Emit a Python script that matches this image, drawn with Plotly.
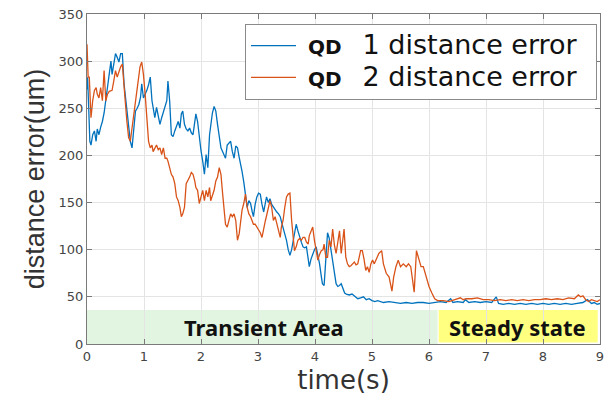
import plotly.graph_objects as go

# ---- data ----
t_qd1 = [0.00, 0.01, 0.03, 0.05, 0.07, 0.10, 0.13, 0.16, 0.18, 0.21, 0.24, 0.27, 0.30, 0.33, 0.36, 0.39,
         0.42, 0.44, 0.47, 0.50, 0.53, 0.56, 0.59, 0.62, 0.65, 0.67, 0.70, 0.73, 0.76, 0.79, 0.82, 0.85,
         0.88, 0.91, 0.94, 0.96, 0.99, 1.02, 1.05, 1.08, 1.11, 1.14, 1.17, 1.19, 1.22, 1.25, 1.28, 1.31,
         1.34, 1.37, 1.40, 1.42, 1.45, 1.48, 1.51, 1.54, 1.57, 1.60, 1.63, 1.655, 1.68, 1.71, 1.74, 1.77,
         1.80, 1.83, 1.86, 1.89, 1.91, 1.94, 1.97, 2.00, 2.03, 2.06, 2.09, 2.12, 2.15, 2.17, 2.20, 2.23,
         2.26, 2.29, 2.32, 2.35, 2.38, 2.41, 2.43, 2.46, 2.49, 2.52, 2.55, 2.58, 2.61, 2.64, 2.67, 2.69,
         2.72, 2.75, 2.78, 2.81, 2.84, 2.87, 2.90, 2.92, 2.95, 2.98, 3.01, 3.04, 3.07, 3.10, 3.13, 3.15,
         3.18, 3.21, 3.24, 3.27, 3.30, 3.33, 3.36, 3.39, 3.41, 3.44, 3.47, 3.50, 3.53, 3.56, 3.59, 3.62,
         3.64, 3.67, 3.70, 3.73, 3.76, 3.79, 3.82, 3.85, 3.88, 3.90, 3.93, 3.96, 3.99, 4.02, 4.05, 4.08,
         4.11, 4.13, 4.16, 4.19, 4.22, 4.25, 4.28, 4.31, 4.34, 4.37, 4.40, 4.43, 4.46, 4.49, 4.52, 4.55,
         4.60, 4.65, 4.70, 4.75, 4.80, 4.85, 4.90, 4.95, 5.00, 5.05, 5.10, 5.15, 5.20, 5.30, 5.40, 5.50,
         5.60, 5.70, 5.80, 5.90, 6.00, 6.10, 6.20, 6.30, 6.38, 6.42, 6.50, 6.60, 6.64, 6.70, 6.80, 6.90,
         7.00, 7.10, 7.18, 7.22, 7.30, 7.40, 7.50, 7.60, 7.70, 7.80, 7.90, 8.00, 8.10, 8.20, 8.30, 8.40,
         8.50, 8.60, 8.70, 8.78, 8.85, 8.90, 8.95, 9.00]
qd1_error = [270, 283, 250, 215, 211, 222, 226, 215, 228, 222, 230, 236, 245, 258, 272, 286,
             300, 286, 297, 308, 304, 299, 308, 308, 276, 265, 247, 236, 215, 208, 229, 247,
             250, 254, 262, 276, 261, 265, 269, 275, 283, 258, 245, 240, 251, 240, 233, 240,
             247, 252, 258, 279, 258, 222, 220, 226, 232, 236, 229, 244, 247, 233, 228, 226,
             229, 224, 222, 235, 244, 236, 219, 205, 194, 180, 201, 187, 222, 233, 245, 252,
             247, 233, 220, 208, 204, 200, 197, 211, 213, 215, 204, 197, 210, 208, 198, 190,
             183, 172, 160, 145, 152, 149, 140, 135, 148, 156, 160, 159, 148, 140, 150, 156,
             150, 154, 148, 145, 142, 140, 138, 135, 130, 124, 118, 110, 100, 94, 100, 110,
             118, 127, 120, 113, 108, 103, 102, 103, 92, 82, 90, 96, 100, 103, 95, 85,
             72, 64, 62, 90, 118, 112, 100, 85, 75, 64, 61, 62, 64, 58, 54, 53,
             52, 53, 50, 48, 49, 50, 47, 48, 46, 45, 46, 45, 44, 45, 44, 43,
             44, 43, 44, 44, 43, 44, 45, 44, 48, 44, 45, 44, 47, 44, 45, 44,
             45, 44, 50, 43, 42, 43, 42, 43, 42, 43, 42, 43, 42, 43, 42, 43,
             42, 43, 44, 47, 43, 44, 42, 43]

t_qd2 = [0.00, 0.01, 0.02, 0.04, 0.07, 0.10, 0.13, 0.16, 0.18, 0.21, 0.24, 0.27, 0.30, 0.33, 0.36, 0.39,
         0.42, 0.44, 0.47, 0.50, 0.53, 0.56, 0.59, 0.62, 0.65, 0.67, 0.70, 0.73, 0.76, 0.79, 0.82, 0.85,
         0.88, 0.91, 0.93, 0.96, 0.99, 1.02, 1.05, 1.08, 1.11, 1.14, 1.16, 1.19, 1.22, 1.25, 1.28, 1.31,
         1.34, 1.37, 1.40, 1.42, 1.45, 1.48, 1.51, 1.54, 1.57, 1.60, 1.63, 1.655, 1.68, 1.71, 1.74, 1.77,
         1.80, 1.83, 1.86, 1.89, 1.91, 1.94, 1.97, 2.00, 2.03, 2.06, 2.09, 2.12, 2.15, 2.17, 2.20, 2.23,
         2.26, 2.29, 2.32, 2.35, 2.38, 2.41, 2.43, 2.46, 2.49, 2.52, 2.55, 2.58, 2.61, 2.64, 2.67, 2.69,
         2.72, 2.75, 2.78, 2.81, 2.84, 2.87, 2.90, 2.92, 2.95, 2.98, 3.01, 3.04, 3.07, 3.10, 3.13, 3.15,
         3.18, 3.21, 3.24, 3.27, 3.30, 3.33, 3.36, 3.39, 3.41, 3.44, 3.47, 3.50, 3.53, 3.56, 3.59, 3.62,
         3.64, 3.67, 3.70, 3.73, 3.76, 3.79, 3.82, 3.85, 3.88, 3.90, 3.93, 3.96, 3.99, 4.02, 4.05, 4.08,
         4.11, 4.14, 4.16, 4.19, 4.22, 4.25, 4.28, 4.31, 4.34, 4.37, 4.40, 4.43, 4.46, 4.48, 4.51, 4.54,
         4.57, 4.60, 4.63, 4.66, 4.69, 4.72, 4.75, 4.80, 4.83, 4.86, 4.89, 4.92, 4.95, 4.98, 5.01, 5.04,
         5.08, 5.12, 5.17, 5.20, 5.25, 5.30, 5.35, 5.38, 5.42, 5.46, 5.50, 5.55, 5.60, 5.64, 5.68, 5.72,
         5.74, 5.78, 5.82, 5.86, 5.90, 5.95, 6.00, 6.05, 6.10, 6.15, 6.25, 6.35, 6.45, 6.55, 6.60, 6.65,
         6.75, 6.85, 6.95, 7.05, 7.15, 7.25, 7.35, 7.45, 7.55, 7.65, 7.75, 7.85, 7.95, 8.05, 8.15, 8.25,
         8.35, 8.45, 8.55, 8.62, 8.66, 8.70, 8.75, 8.80, 8.85, 8.90, 8.95, 9.00]
qd2_error = [318, 300, 283, 283, 240, 258, 269, 272, 265, 261, 272, 258, 290, 258, 265, 268,
             269, 269, 279, 290, 283, 290, 294, 297, 269, 258, 236, 219, 215, 229, 247, 261,
             276, 286, 294, 299, 286, 265, 240, 215, 208, 211, 204, 208, 211, 206, 208, 201,
             208, 197, 197, 194, 187, 180, 177, 170, 156, 152, 145, 135, 138, 145, 170, 173,
             177, 182, 180, 173, 166, 163, 149, 156, 163, 152, 163, 156, 166, 152, 157, 163,
             173, 177, 187, 180, 159, 138, 127, 124, 131, 138, 135, 138, 131, 110, 117, 127,
             142, 149, 159, 145, 138, 135, 131, 127, 127, 124, 120, 118, 113, 124, 131, 136,
             145, 152, 145, 131, 135, 128, 120, 113, 124, 131, 145, 156, 159, 160, 131, 110,
             99, 103, 110, 112, 110, 113, 113, 108, 106, 115, 120, 124, 110, 100, 89, 95,
             99, 100, 106, 92, 92, 110, 103, 122, 105, 96, 106, 120, 96, 110, 122, 92,
             85, 82, 83, 85, 87, 84, 85, 99, 99, 90, 78, 82, 76, 85, 89, 85,
             90, 96, 99, 85, 75, 71, 56, 71, 82, 89, 82, 85, 82, 85, 82, 61,
             55, 99, 89, 82, 82, 71, 61, 54, 48, 46, 46, 45, 47, 49, 47, 48,
             48, 49, 47, 47, 46, 47, 46, 47, 46, 47, 46, 47, 47, 48, 47, 48,
             47, 49, 48, 52, 50, 51, 47, 45, 47, 46, 45, 47]

series_names = ["1 distance error", "2 distance error"]
series_colors = ["#0072BD", "#D95319"]
region_labels = ["Transient Area", "Steady state"]
region_bounds = [(0, 6.15), (6.17, 8.96)]
x_ticks = [0, 1, 2, 3, 4, 5, 6, 7, 8, 9]
y_ticks = [0, 50, 100, 150, 200, 250, 300, 350]

ARIAL = "Liberation Sans, Arial, sans-serif"
WIDE = "DejaVu Sans, sans-serif"

fig = go.Figure()
for t, v, nm, col in [(t_qd1, qd1_error, series_names[0], series_colors[0]),
                      (t_qd2, qd2_error, series_names[1], series_colors[1])]:
    fig.add_trace(go.Scatter(
        x=t, y=v, mode="lines",
        name="&nbsp;<span style='font-size:20px'><b>QD</b></span>&nbsp;&nbsp;&nbsp;"
             "<span style='font-size:27px'>" + nm + "</span>&nbsp;&nbsp;",
        line=dict(color=col, width=1.3),
    ))

# region boxes
fig.add_shape(type="rect", xref="x", yref="y",
              x0=region_bounds[0][0], x1=region_bounds[0][1], y0=0, y1=36,
              fillcolor="#e1f5e1", line=dict(width=0), layer="below")
fig.add_shape(type="rect", xref="x", yref="y",
              x0=region_bounds[1][0], x1=region_bounds[1][1], y0=1.5, y1=36,
              fillcolor="#ffff80", line=dict(width=0), layer="below")
fig.add_annotation(x=3.1, y=18, xref="x", yref="y", text="<b>" + region_labels[0] + "</b>",
                   showarrow=False, font=dict(family="Noto Sans, sans-serif", size=22, color="#111111"))
fig.add_annotation(x=7.56, y=18, xref="x", yref="y", text="<b>" + region_labels[1] + "</b>",
                   showarrow=False, font=dict(family="Noto Sans, sans-serif", size=22, color="#111111"))

axis_common = dict(
    showgrid=True, gridcolor="#e4e4e4", gridwidth=1,
    showline=True, linecolor="#7a7a7a", linewidth=1, mirror="ticks",
    ticks="inside", ticklen=5, tickcolor="#7a7a7a",
    tickfont=dict(family=WIDE, size=13, color="#444444"),
    zeroline=False,
)

fig.update_layout(
    width=610, height=400,
    margin=dict(l=87, r=6, t=14, b=56),
    paper_bgcolor="white", plot_bgcolor="white",
    font=dict(family=WIDE, color="#222222"),
    xaxis=dict(range=[0, 9], tickvals=x_ticks,
               title=dict(text="time(s)", font=dict(family=WIDE, size=26, color="#333333"), standoff=8),
               **axis_common),
    yaxis=dict(range=[0, 350], tickvals=y_ticks,
               title=dict(text="distance error(um)", font=dict(family=ARIAL, size=27, color="#333333"), standoff=6),
               **axis_common),
    legend=dict(x=0.308, y=0.97, xanchor="left", yanchor="top",
                bgcolor="white", bordercolor="#8a8a8a", borderwidth=1,
                font=dict(family=WIDE, size=22, color="#111111"),
                itemwidth=45, tracegroupgap=0),
    showlegend=True,
)

fig.write_html("out.html", config={"displayModeBar": False},
               post_script="document.body.style.margin='0';")
